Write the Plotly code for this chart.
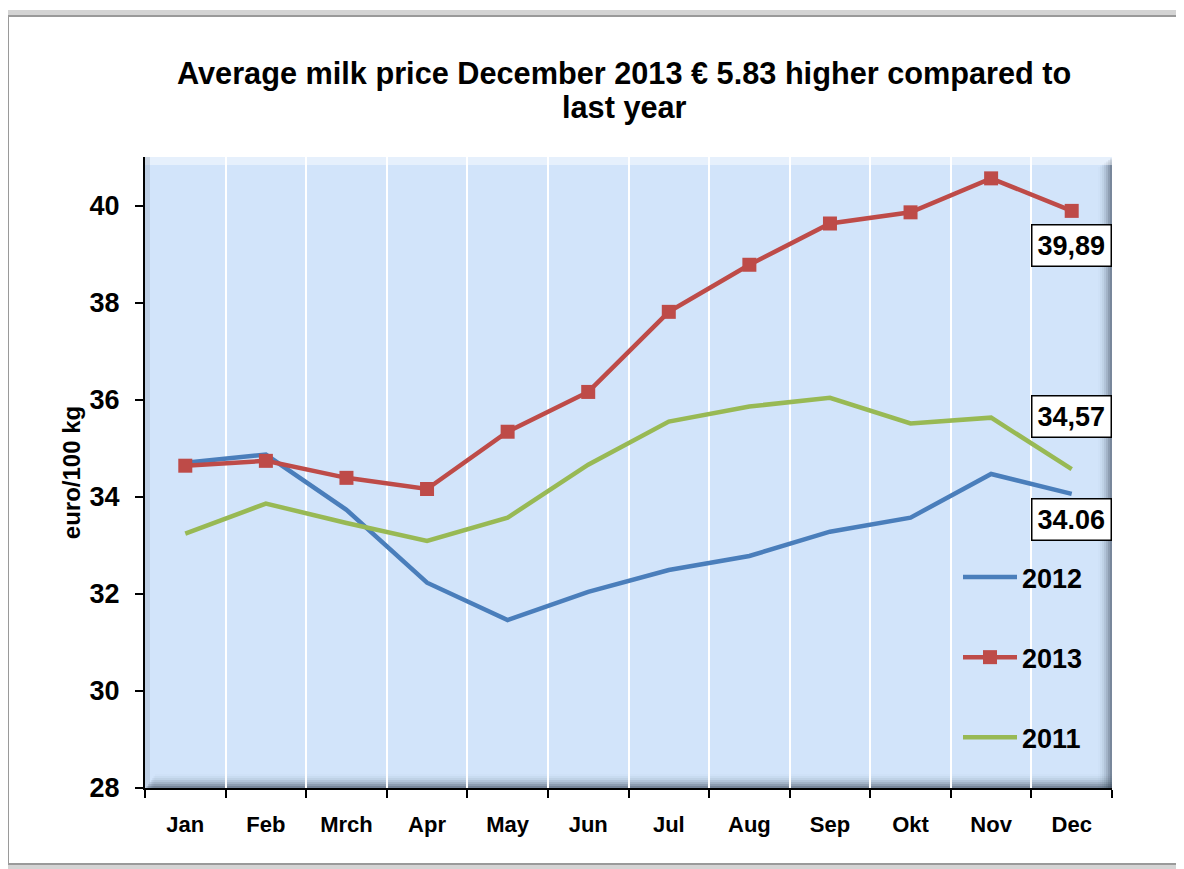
import plotly.graph_objects as go

months = ["Jan", "Feb", "Mrch", "Apr", "May", "Jun", "Jul", "Aug", "Sep", "Okt", "Nov", "Dec"]
y2012 = [34.70, 34.87, 33.73, 32.23, 31.46, 32.04, 32.49, 32.78, 33.28, 33.57, 34.47, 34.06]
y2013 = [34.64, 34.74, 34.39, 34.16, 35.34, 36.16, 37.81, 38.78, 39.63, 39.86, 40.56, 39.89]
y2011 = [33.24, 33.86, 33.46, 33.09, 33.57, 34.66, 35.55, 35.86, 36.04, 35.51, 35.63, 34.57]
end_labels = ["39,89", "34,57", "34.06"]
title_lines = ["Average milk price December 2013 € 5.83 higher compared to", "last year"]

OFF = 8  # page body margin
W, H = 1184 - OFF, 869 - OFF
L, R, T, B = 145, 1112, 157, 788  # plot area in screen pixels
FONT = "Liberation Sans, Arial, sans-serif"

def px(x):
    return (x - L) / (R - L)

def py(y):
    return (B - y) / (B - T)

fig = go.Figure()
fig.add_trace(go.Scatter(x=months, y=y2012, name="2012", mode="lines",
                         line=dict(color="#4A7EBB", width=4.5), legendgroup="a"))
fig.add_trace(go.Scatter(x=months, y=y2013, name="2013", mode="lines+markers",
                         line=dict(color="#BE4B48", width=4.5),
                         marker=dict(symbol="square", size=14, color="#BE4B48"), legendgroup="b"))
fig.add_trace(go.Scatter(x=months, y=y2011, name="2011", mode="lines",
                         line=dict(color="#98B954", width=4.5), legendgroup="c"))

shapes = []
# plot area bevel: right and bottom dark gradient
for i, op in enumerate([0.05, 0.1, 0.16, 0.24, 0.34, 0.46, 0.6]):
    w = 14 - 2 * i
    shapes.append(dict(type="rect", xref="paper", yref="paper",
                       x0=px(R - w), x1=1, y0=py(T + 10 - (i * 1.4)), y1=0,
                       fillcolor=f"rgba(40,50,70,{op*0.35})", line=dict(width=0), layer="below"))
    shapes.append(dict(type="rect", xref="paper", yref="paper",
                       x0=px(L + 10 - i * 1.4), x1=1, y0=0, y1=py(B - w),
                       fillcolor=f"rgba(40,50,70,{op*0.35})", line=dict(width=0), layer="below"))
# top/left highlight
shapes.append(dict(type="rect", xref="paper", yref="paper", x0=0, x1=1, y0=py(T + 8), y1=1,
                   fillcolor="rgba(255,255,255,0.45)", line=dict(width=0), layer="below"))
shapes.append(dict(type="rect", xref="paper", yref="paper", x0=0, x1=px(L + 5), y0=0, y1=1,
                   fillcolor="rgba(120,130,150,0.22)", line=dict(width=0), layer="below"))
# outer frame with shadow
shapes.append(dict(type="rect", xref="paper", yref="paper", x0=px(6), x1=px(1181), y0=py(866), y1=py(13),
                   line=dict(color="rgba(160,160,160,0.45)", width=6), layer="below"))
shapes.append(dict(type="rect", xref="paper", yref="paper", x0=px(8), x1=px(1179), y0=py(864), y1=py(16),
                   line=dict(color="#9A9A9A", width=2), layer="below"))

annotations = []
for lbl, yv, yoff in [(end_labels[0], y2013[-1], -35), (end_labels[1], y2011[-1], 53), (end_labels[2], y2012[-1], -26)]:
    annotations.append(dict(x="Dec", y=yv, xref="x", yref="y", text="<b>" + lbl + "</b>",
                            showarrow=False, yshift=yoff, xshift=0,
                            font=dict(family=FONT, size=27, color="black"),
                            bgcolor="white", bordercolor="black", borderwidth=1.5, borderpad=5))
# title lines
for line, ycen in [(title_lines[0], 74), (title_lines[1], 107)]:
    annotations.append(dict(x=px(624), y=py(ycen), xref="paper", yref="paper", text="<b>" + line + "</b>",
                            showarrow=False, xanchor="center", yanchor="middle",
                            font=dict(family=FONT, size=30.7, color="black")))

fig.update_layout(
    width=W, height=H,
    margin=dict(l=L - OFF, r=1184 - R, t=T - OFF, b=869 - B),
    paper_bgcolor="white", plot_bgcolor="#D2E4FA",
    font=dict(family=FONT, color="black"),
    xaxis=dict(type="category", tickson="boundaries", ticks="outside", ticklen=8, tickwidth=2,
               tickcolor="black", showgrid=True, gridcolor="white", gridwidth=1.5,
               showline=True, linecolor="black", linewidth=2, ticklabelstandoff=16,
               tickfont=dict(family=FONT, size=22, color="black", weight="bold"),
               range=[-0.5, 11.5]),
    yaxis=dict(range=[28, 41], tickvals=[28, 30, 32, 34, 36, 38, 40], ticks="outside", ticklen=8,
               tickwidth=2, tickcolor="black", showgrid=False, showline=True, linecolor="black",
               linewidth=2, ticklabelstandoff=10,
               tickfont=dict(family=FONT, size=27, color="black", weight="bold"),
               title=dict(text="<b>euro/100 kg</b>", font=dict(family=FONT, size=24, color="black"),
                          standoff=2)),
    legend=dict(x=px(958), y=py(553), xanchor="left", yanchor="top", bgcolor="rgba(0,0,0,0)",
                font=dict(family=FONT, size=27, color="black", weight="bold"),
                tracegroupgap=42, itemwidth=54),
    showlegend=True,
    shapes=shapes, annotations=annotations,
)

fig.write_html("out.html")
